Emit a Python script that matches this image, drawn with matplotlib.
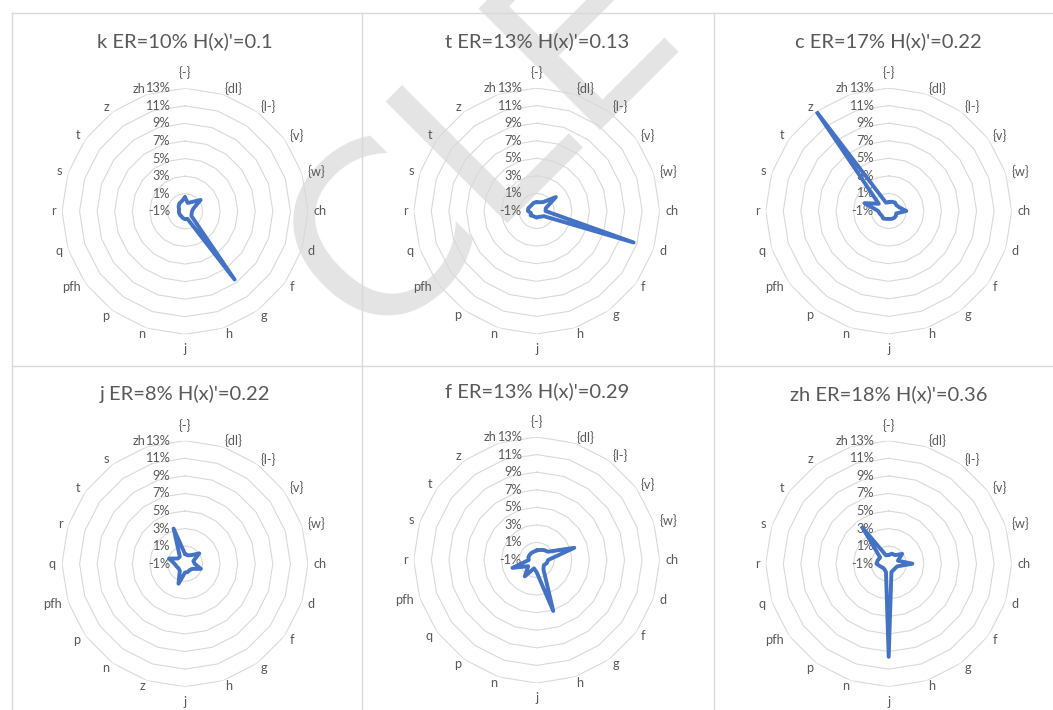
import numpy as np
import matplotlib
matplotlib.use('Agg')
import matplotlib.pyplot as plt
from matplotlib.lines import Line2D

plt.rcParams['font.family'] = ['Lato', 'DejaVu Sans']

TXT = '#595959'
GRID = '#d9d9d9'
BLUE = '#4472c4'

# category orders used by the six radars
cats_a = ['{-}', '{dl}', '{l-}', '{v}', '{w}', 'ch', 'd', 'f', 'g', 'h', 'j',
          'n', 'p', 'pfh', 'q', 'r', 's', 't', 'z', 'zh']
cats_j = ['{-}', '{dl}', '{l-}', '{v}', '{w}', 'ch', 'd', 'f', 'g', 'h', 'j',
          'z', 'n', 'p', 'pfh', 'q', 'r', 't', 's', 'zh']
cats_f = ['{-}', '{dl}', '{l-}', '{v}', '{w}', 'ch', 'd', 'f', 'g', 'h', 'j',
          'n', 'p', 'q', 'pfh', 'r', 's', 't', 'z', 'zh']

# confusion shares in %
k_vals = [0.6, 0.0, 0.3, 1.2, 0.0, -0.2, -0.2, -0.1, 8.6, -0.1,
          -0.1, -0.2, -0.3, -0.3, -0.3, -0.3, -0.3, -0.1, 0.1, 0.2]
t_vals = [0.0, 0.05, 0.25, 1.7, 0.1, 0.0, 10.6, 0.0, -0.2, -0.3,
          -0.25, -0.3, -0.3, -0.15, -0.3, 0.0, 0.0, -0.1, -0.1, 0.0]
c_vals = [0.0, 0.1, 0.2, 0.1, 0.3, 1.0, -0.1, 0.0, 0.0, -0.05,
          -0.1, -0.05, 0.05, -0.05, 0.05, 0.2, 1.9, 0.4, 12.9, 0.0]
j_vals = [0.1, 0.0, 0.2, 1.0, 0.0, 0.1, 0.9, 0.0, -0.1, 0.0,
          0.0, 1.4, 0.0, -0.1, 0.0, 0.2, 0.9, 0.0, 0.0, 3.2]
f_vals = [0.1, 0.2, 0.4, 0.6, 3.5, 0.3, 0.2, 0.0, 0.3, 5.1,
          0.4, 0.0, 1.3, 0.2, 1.9, -0.1, 0.0, 0.0, 0.0, 0.0]
zh_vals = [0.0, 0.2, 0.2, 0.9, 0.1, 1.7, 0.0, -0.1, -0.1, 0.0,
           9.6, 0.0, -0.2, -0.2, 0.0, 0.4, 0.3, 0.2, 4.1, 0.0]

titles = ["k ER=10% H(x)'=0.1", "t ER=13% H(x)'=0.13", "c ER=17% H(x)'=0.22",
          "j ER=8% H(x)'=0.22", "f ER=13% H(x)'=0.29", "zh ER=18% H(x)'=0.36"]
cat_sets = [cats_a, cats_a, cats_a, cats_j, cats_f, cats_a]
val_sets = [k_vals, t_vals, c_vals, j_vals, f_vals, zh_vals]

rings = [1, 3, 5, 7, 9, 11, 13]
tick_labels = ['-1%', '1%', '3%', '5%', '7%', '9%', '11%', '13%']

W, H = 1053, 710
fig = plt.figure(figsize=(W / 100, H / 100), dpi=100)

# faint watermark behind the charts
fig.text(0.459, 0.80, 'CLE', fontsize=170, rotation=45, color='#e4e4e4',
         ha='center', va='center', family='DejaVu Sans', zorder=-1)

# panel separators
def hline(y, x0, x1):
    fig.add_artist(Line2D([x0 / W, x1 / W], [1 - y / H, 1 - y / H], color=GRID, lw=1))

def vline(x, y0, y1):
    fig.add_artist(Line2D([x / W, x / W], [1 - y0 / H, 1 - y1 / H], color=GRID, lw=1))

hline(13, 12, W)
hline(365.5, 12, W)
for x in [12, 361.5, 713.5]:
    vline(x, 13, H)

centers = [(185, 211.3), (536.7, 211), (888.7, 211),
           (185, 563.7), (536.7, 560), (888.7, 563.7)]
title_y = [41.3, 41.3, 41.3, 394.3, 391, 394.3]
R = 123  # pixel radius of the 13% ring

for i in range(6):
    cx, cy = centers[i]
    ax = fig.add_axes([(cx - R) / W, 1 - (cy + R) / H, 2 * R / W, 2 * R / H],
                      projection='polar')
    ax.set_facecolor('none')
    ax.set_theta_zero_location('N')
    ax.set_theta_direction(-1)
    ax.set_ylim(-1, 13)
    ax.grid(False)
    ax.set_xticks([])
    ax.set_yticks([])
    ax.spines['polar'].set_visible(False)

    cats = cat_sets[i]
    n = len(cats)
    theta = np.arange(n) * 2 * np.pi / n
    th_c = np.append(theta, theta[0])

    for v in rings:
        ax.plot(th_c, [v] * (n + 1), color=GRID, lw=0.8, zorder=1)

    for v, lab in zip([-1] + rings, tick_labels):
        ax.annotate(lab, xy=(0, v), xytext=(-10.8, 0), textcoords='offset points',
                    ha='right', va='center', fontsize=9.2, color=TXT, zorder=2)

    for th, lab in zip(theta, cats):
        s, c = np.sin(th), np.cos(th)
        if abs(s) < 0.05:
            ha = 'center'
            va = 'bottom' if c > 0 else 'top'
            d = 6.5
        else:
            ha = 'left' if s > 0 else 'right'
            va = 'center'
            d = 4.3
        ax.annotate(lab, xy=(th, 13), xytext=(s * d, c * d), textcoords='offset points',
                    ha=ha, va=va, fontsize=9.2, color=TXT, annotation_clip=False)

    vals = val_sets[i]
    ax.plot(th_c, vals + vals[:1], color=BLUE, lw=2.8, solid_joinstyle='round',
            solid_capstyle='round', zorder=3)

    fig.text(cx / W, 1 - title_y[i] / H, titles[i], ha='center', va='center',
             fontsize=14.5, color=TXT)

fig.savefig('out.png', dpi=100)
